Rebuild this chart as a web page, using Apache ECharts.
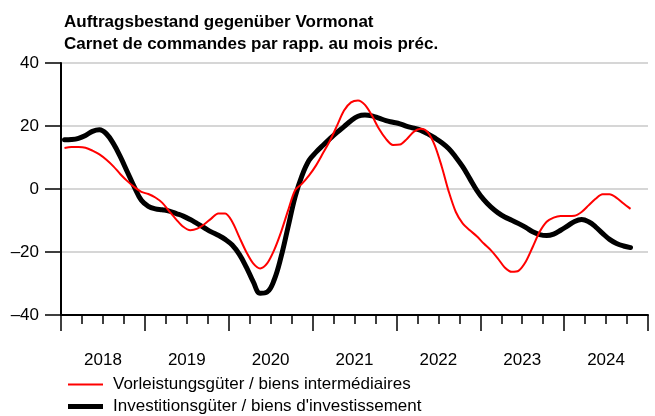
<!DOCTYPE html>
<html>
<head>
<meta charset="utf-8">
<script src="https://cdn.jsdelivr.net/npm/echarts@6/dist/echarts.min.js"></script>
<style>
  html, body { margin: 0; padding: 0; background: #fff; }
  #main { width: 655px; height: 416px; }
</style>
</head>
<body>
<div id="main"></div>
<script>
// monthly, Jan 2018 .. Dec 2024
var years = ['2018', '2019', '2020', '2021', '2022', '2023', '2024'];
var months = [];
years.forEach(function (y) {
  for (var m = 1; m <= 12; m++) months.push(y + '-' + (m < 10 ? '0' + m : m));
});

// Vorleistungsgüter / biens intermédiaires (Jan 2018 .. Oct 2024)
var vorleistung = [
  13, 13.3, 13.3, 13.1, 12.2, 11, 9.3, 7.2, 4.7, 2.5, 0.6, -0.9,
  -1.6, -2.7, -4.4, -7.1, -9.7, -12, -13.1, -12.6, -11.2, -9.4, -7.8, -7.8,
  -10.4, -15.2, -19.9, -23.6, -25.2, -23.6, -19.4, -13.6, -6.8, -0.4, 1.7, 4.3,
  7.5, 11.4, 15.4, 20.1, 24.9, 27.5, 28.1, 26.7, 23.3, 19.1, 15.9, 14,
  14.1, 15.9, 18.2, 19.1, 18, 13.8, 7, -0.9, -7.3, -11, -13.1, -15,
  -17.3, -19.4, -22, -24.9, -26.3, -25.9, -23.1, -18.4, -13.6, -10.4, -9.1, -8.6,
  -8.6, -8.5, -7.3, -5.2, -3.1, -1.7, -1.7, -2.8, -4.6, -6.3
];

// Investitionsgüter / biens d'investissement (Jan 2018 .. Oct 2024)
var investition = [
  15.6, 15.7, 16.1, 17, 18.3, 18.8, 17.5, 14.4, 10.2, 5.4, 0.6, -3.6,
  -5.5, -6.3, -6.6, -7, -7.8, -8.6, -9.7, -11, -12.3, -13.6, -14.7, -16,
  -17.8, -20.7, -24.7, -29.4, -33.1, -32.7, -28.9, -21.5, -12, -2.5, 4.3, 9.1,
  11.7, 13.9, 16, 18, 19.8, 21.7, 23.1, 23.5, 23.2, 22.5, 21.7, 21.2,
  20.7, 19.9, 19.3, 18.6, 17.5, 16.2, 14.7, 12.8, 10.1, 7, 3.3, -0.4,
  -3.4, -5.7, -7.5, -8.9, -9.9, -11, -12.2, -13.6, -14.5, -14.8, -14.3, -13.1,
  -11.7, -10.3, -9.7, -10.4, -12, -14.1, -16, -17.3, -18.1, -18.6
];

var nameVor = 'Vorleistungsgüter / biens intermédiaires';
var nameInv = "Investitionsgüter / biens d'investissement";

var font = 'Liberation Sans, Arial, Helvetica, sans-serif';

var myChart = echarts.init(document.getElementById('main'), null, { renderer: 'canvas' });

myChart.setOption({
  animation: false,
  backgroundColor: '#fff',
  textStyle: { fontFamily: font, color: '#000' },
  title: {
    text: 'Auftragsbestand gegenüber Vormonat\nCarnet de commandes par rapp. au mois préc.',
    left: 59,
    top: 6,
    textStyle: { fontFamily: font, fontSize: 17, fontWeight: 'bold', color: '#000', lineHeight: 22 }
  },
  legend: [{
    data: [{ name: nameVor, icon: 'rect' }],
    orient: 'vertical',
    left: 63,
    top: 371,
    itemWidth: 35,
    itemHeight: 2,
    textStyle: { fontFamily: font, fontSize: 17, color: '#000', padding: [0, 0, 0, 5] }
  }, {
    data: [{ name: nameInv, icon: 'rect' }],
    orient: 'vertical',
    left: 63,
    top: 393,
    itemWidth: 35,
    itemHeight: 5,
    textStyle: { fontFamily: font, fontSize: 17, color: '#000', padding: [0, 0, 0, 5] }
  }],
  grid: { left: 61, right: 7, top: 63, bottom: 101, containLabel: false },
  xAxis: [{
    type: 'category',
    data: months,
    boundaryGap: true,
    axisLine: { show: true, onZero: false, lineStyle: { color: '#000', width: 2 } },
    axisTick: {
      show: true,
      inside: false,
      length: 9,
      interval: function (index) { return index % 3 === 0; },
      lineStyle: { color: '#000', width: 1.5 }
    },
    axisLabel: { show: false },
    splitLine: { show: false }
  }, {
    type: 'category',
    data: years,
    position: 'bottom',
    boundaryGap: true,
    axisLine: { show: false, onZero: false },
    axisTick: { show: true, length: 16, lineStyle: { color: '#000', width: 1.5 } },
    axisLabel: { show: true, margin: 37, fontFamily: font, fontSize: 17, color: '#000' },
    splitLine: { show: false }
  }],
  yAxis: {
    type: 'value',
    min: -40,
    max: 40,
    interval: 20,
    axisLine: { show: true, lineStyle: { color: '#000', width: 2 } },
    axisTick: { show: true, length: 16, lineStyle: { color: '#000', width: 1.5 } },
    axisLabel: {
      margin: 22,
      fontFamily: font,
      fontSize: 17,
      color: '#000',
      formatter: function (v) { return v < 0 ? '\u2013' + Math.abs(v) : String(v); }
    },
    splitLine: { show: true, lineStyle: { color: '#c8c8c8', width: 1.5 } }
  },
  series: [{
    name: nameVor,
    type: 'line',
    data: vorleistung,
    color: '#ff0000',
    smooth: 0.3,
    showSymbol: false,
    lineStyle: { color: '#ff0000', width: 2 },
    z: 3
  }, {
    name: nameInv,
    type: 'line',
    data: investition,
    color: '#000000',
    smooth: 0.4,
    showSymbol: false,
    lineStyle: { color: '#000000', width: 5, cap: 'round', join: 'round' },
    z: 2
  }]
});
</script>
</body>
</html>
